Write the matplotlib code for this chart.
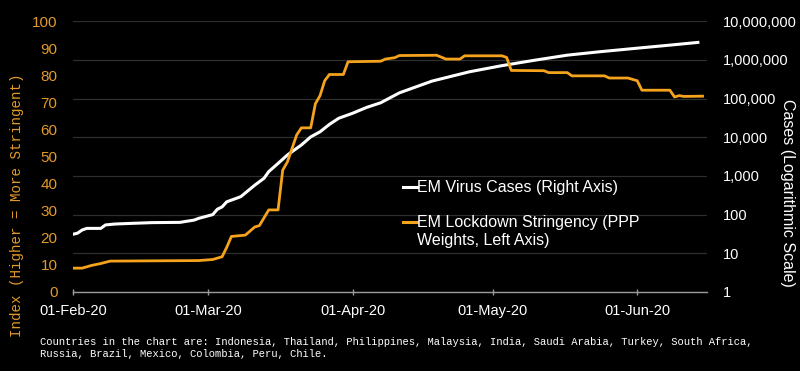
import numpy as np
import pandas as pd
import matplotlib
matplotlib.use("Agg")
import matplotlib.pyplot as plt
import matplotlib.dates as mdates
from matplotlib.lines import Line2D
from matplotlib.ticker import FuncFormatter, FixedLocator

# EM lockdown stringency index (left axis)
stringency_dates = [
    "2020-02-01", "2020-02-03", "2020-02-05", "2020-02-07", "2020-02-09",
    "2020-02-28", "2020-03-02", "2020-03-04", "2020-03-05", "2020-03-06",
    "2020-03-09", "2020-03-11", "2020-03-12", "2020-03-14", "2020-03-16",
    "2020-03-17", "2020-03-18", "2020-03-19", "2020-03-20", "2020-03-21",
    "2020-03-23", "2020-03-24", "2020-03-25", "2020-03-26", "2020-03-27",
    "2020-03-30", "2020-03-31", "2020-04-07", "2020-04-08", "2020-04-10",
    "2020-04-11", "2020-04-19", "2020-04-21", "2020-04-24", "2020-04-25",
    "2020-05-03", "2020-05-04", "2020-05-05", "2020-05-12", "2020-05-13",
    "2020-05-17", "2020-05-18", "2020-05-25", "2020-05-26", "2020-05-30",
    "2020-06-01", "2020-06-02", "2020-06-08", "2020-06-09", "2020-06-10",
    "2020-06-11", "2020-06-15",
]
stringency = [
    8.8, 8.8, 9.8, 10.5, 11.4,
    11.6, 12.0, 13.0, 16.5, 20.5,
    21.0, 24.0, 24.5, 30.3, 30.3,
    45.0, 48.0, 53.0, 58.0, 60.6,
    60.6, 69.5, 72.5, 78.0, 80.3,
    80.3, 85.0, 85.2, 86.0, 86.5,
    87.3, 87.4, 86.0, 86.0, 87.2,
    87.2, 86.6, 81.8, 81.7, 81.0,
    81.0, 79.8, 79.8, 79.0, 79.0,
    78.0, 74.5, 74.5, 72.0, 72.5,
    72.2, 72.3,
]

# EM virus cases (right axis, log scale)
cases_dates = [
    "2020-02-01", "2020-02-02", "2020-02-03", "2020-02-04", "2020-02-07",
    "2020-02-08", "2020-02-10", "2020-02-13", "2020-02-18", "2020-02-24",
    "2020-02-25", "2020-02-27", "2020-02-28", "2020-03-02", "2020-03-03",
    "2020-03-04", "2020-03-05", "2020-03-08", "2020-03-11", "2020-03-13",
    "2020-03-14", "2020-03-16", "2020-03-18", "2020-03-21", "2020-03-23",
    "2020-03-25", "2020-03-27", "2020-03-29", "2020-04-01", "2020-04-04",
    "2020-04-07", "2020-04-11", "2020-04-18", "2020-04-26", "2020-05-03",
    "2020-05-10", "2020-05-17", "2020-05-24", "2020-06-01", "2020-06-08",
    "2020-06-14",
]
cases = [
    31, 33, 40, 44, 44,
    54, 57, 59, 62, 63,
    66, 72, 80, 100, 138,
    158, 214, 290, 575, 870,
    1290, 2100, 3470, 6300, 10200,
    13800, 21400, 30900, 41700, 59000,
    77600, 140000, 282000, 490000, 708000,
    977000, 1320000, 1620000, 2000000, 2400000,
    2820000,
]

month_ticks = ["2020-02-01", "2020-03-01", "2020-04-01", "2020-05-01", "2020-06-01"]
left_ticks = list(range(0, 101, 10))
right_ticks = [1, 10, 100, 1000, 10000, 100000, 1000000, 10000000]

footnote = ("Countries in the chart are: Indonesia, Thailand, Philippines, Malaysia, India, "
            "Saudi Arabia, Turkey, South Africa,\nRussia, Brazil, Mexico, Colombia, Peru, Chile.")

ORANGE = "#f5a21c"
LABEL_ORANGE = "#e39a2a"
SANS = ["Liberation Sans", "DejaVu Sans"]
MONO = ["Liberation Mono", "DejaVu Sans Mono"]

s_dates = pd.to_datetime(stringency_dates)
c_dates = pd.to_datetime(cases_dates)

fig = plt.figure(figsize=(8, 3.71), dpi=100, facecolor="black")
ax = fig.add_axes([0.091, 0.213, 0.793, 0.730])
ax.set_facecolor("black")
ax2 = ax.twinx()

ax2.set_yscale("log")
ax2.set_ylim(1, 1e7)
ax2.yaxis.set_major_locator(FixedLocator(right_ticks))
ax2.yaxis.set_minor_locator(FixedLocator([]))
ax2.yaxis.set_major_formatter(FuncFormatter(lambda v, p: f"{int(round(v)):,}"))
ax2.grid(axis="y", color="#2e2e2e", lw=0.9)
ax2.set_axisbelow(True)

ax.set_ylim(0, 100)
ax.set_yticks(left_ticks)
ax.set_xlim(pd.Timestamp("2020-02-01"), pd.Timestamp("2020-06-16"))
ax.set_xticks(pd.to_datetime(month_ticks))
ax.xaxis.set_major_formatter(mdates.DateFormatter("%d-%b-%y"))

ax2.plot(c_dates, cases, color="white", lw=2.2, zorder=3)
ax.plot(s_dates, stringency, color=ORANGE, lw=2.0, zorder=4)
ax.set_zorder(ax2.get_zorder() + 1)
ax.patch.set_visible(False)

for a in (ax, ax2):
    for sp in a.spines.values():
        sp.set_visible(False)
ax.spines["bottom"].set_visible(True)
ax.spines["bottom"].set_color("#9a9a9a")
ax.spines["bottom"].set_linewidth(1.0)

ax.tick_params(axis="x", colors="#9a9a9a", direction="inout", length=5, width=1,
               labelcolor="white", labelsize=10.5, pad=6)
ax.tick_params(axis="y", length=0, labelcolor=LABEL_ORANGE, labelsize=11, pad=11)
ax2.tick_params(axis="y", length=0, labelcolor="white", labelsize=10.5, pad=11)
for lab in ax.get_xticklabels() + ax.get_yticklabels() + ax2.get_yticklabels():
    lab.set_family(SANS)

fig.text(0.021, 1 - 205 / 371, "Index (Higher = More Stringent)", rotation=90,
         ha="center", va="center", color=LABEL_ORANGE, fontsize=10.2, family=MONO)
fig.text(0.984, 1 - 193 / 371, "Cases (Logarithmic Scale)", rotation=270,
         ha="center", va="center", color="white", fontsize=11.5, family=SANS)

# legend drawn by hand so the orange key sits on the first text line
ax.add_line(Line2D([0.520, 0.542], [0.387, 0.387], transform=ax.transAxes,
                   color="white", lw=2.2))
ax.text(0.543, 0.387, "EM Virus Cases (Right Axis)", transform=ax.transAxes,
        color="white", fontsize=11.5, va="center", family=SANS)
ax.add_line(Line2D([0.520, 0.542], [0.258, 0.258], transform=ax.transAxes,
                   color=ORANGE, lw=2.2))
ax.text(0.543, 0.258, "EM Lockdown Stringency (PPP", transform=ax.transAxes,
        color="white", fontsize=11.5, va="center", family=SANS)
ax.text(0.543, 0.19, "Weights, Left Axis)", transform=ax.transAxes,
        color="white", fontsize=11.5, va="center", family=SANS)

fig.text(0.05, 1 - 348 / 371, footnote, color="white", fontsize=7.6, va="center",
         ha="left", linespacing=1.25, family=MONO)

fig.savefig("out.png", dpi=100, facecolor="black")
